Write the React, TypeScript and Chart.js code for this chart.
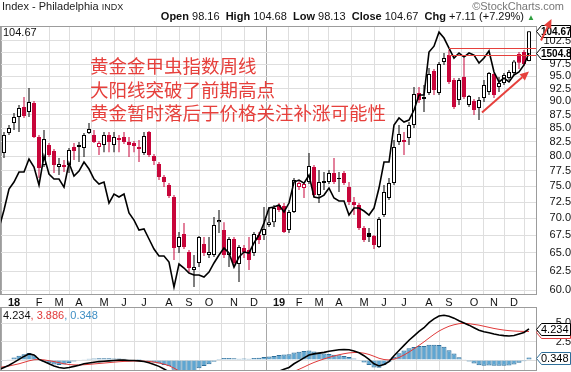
import React, { useEffect, useRef } from 'react';
import { Chart, registerables } from 'chart.js';

Chart.register(...registerables);

const FONT = '"Liberation Sans", Arial, Helvetica, sans-serif';
const CJK = '"Noto Sans CJK SC", "Noto Sans CJK TC", sans-serif';

// week index of the first bar (week 0 = week of 1 Jan 2018), one bar per week
const FIRST_WEEK = -3;

const opens = [
  76.66, 80.54, 84.08, 85.91, 87.04, 88.93, 87.97, 89.69, 83.37, 78.5,
  81.95, 80.89, 78.17, 78.5, 78.5, 81.6, 81.6, 81.43, 84.08, 83.73,
  81.6, 81.95, 83.73, 81.95, 83.2, 83.37, 82.48, 82.3, 81.6, 80.54,
  84.26, 80.03, 78.67, 76.5, 75.2, 73.28, 65.81, 67.67, 65.1, 62.64,
  63.58, 66.24, 64.69, 64.69, 69.43, 68.26, 64.69, 66.95, 63.45, 65.67,
  65.39, 64.96, 67.53, 67.53, 68.99, 69.43, 72.03, 71.87, 68.26, 70.95,
  74.88, 74.72, 75.68, 78.17, 73.59, 75.52, 75.68, 77.15, 76.34, 77.15,
  74.88, 72.49, 72.03, 68.55, 67.82, 67.39, 65.81, 70.5, 73.12, 75.52,
  82.48, 82.48, 83.2, 85.55, 91.64, 90.86, 91.64, 96.07, 91.64, 97.95,
  99.45, 94.25, 90.28, 94.86, 89.31, 90.07, 88.74, 90.67, 91.83, 95.47,
  92.85, 93.64, 94.66, 95.67, 99.66, 100.08, 98.16,
];
const highs = [
  80.54, 84.26, 85.55, 87.78, 89.31, 90.86, 92.65, 90.07, 83.73, 84.64,
  82.3, 81.25, 79.69, 79.35, 81.43, 82.3, 82.48, 84.08, 85.91, 84.64,
  82.65, 84.26, 84.26, 84.26, 83.73, 84.26, 83.37, 82.65, 82.84, 84.26,
  84.44, 80.37, 79.0, 76.83, 75.52, 73.59, 67.96, 69.29, 65.39, 64.69,
  67.39, 67.24, 67.24, 70.2, 71.26, 69.43, 67.24, 67.24, 66.09, 66.09,
  67.24, 67.96, 67.96, 71.72, 71.72, 72.03, 72.33, 72.33, 71.26, 76.34,
  76.01, 75.68, 80.54, 78.5, 77.67, 77.32, 77.67, 79.69, 77.32, 77.49,
  75.68, 73.28, 72.33, 68.85, 68.55, 67.53, 70.2, 75.2, 76.34, 82.84,
  85.55, 84.26, 86.1, 92.85, 92.85, 93.24, 96.71, 96.51, 97.95, 99.87,
  100.53, 94.66, 94.66, 98.81, 91.25, 90.47, 90.86, 94.25, 95.87, 95.67,
  94.86, 95.67, 96.3, 98.39, 100.08, 100.53, 104.68,
];
const lows = [
  75.2, 79.69, 83.73, 84.64, 84.26, 86.85, 87.04, 83.2, 76.34, 78.17,
  79.86, 77.15, 76.83, 77.32, 77.15, 79.35, 79.0, 79.86, 83.91, 82.3,
  80.2, 80.71, 80.71, 80.71, 80.71, 82.13, 79.86, 80.71, 79.0, 80.2,
  79.86, 78.5, 76.01, 74.88, 73.12, 64.0, 64.96, 65.53, 62.35, 60.39,
  63.04, 64.55, 64.28, 64.41, 67.82, 64.28, 63.04, 63.04, 61.05, 64.28,
  62.64, 64.55, 66.24, 66.81, 68.7, 68.7, 70.95, 67.82, 67.82, 70.8,
  74.4, 73.12, 75.36, 73.28, 72.33, 74.4, 75.36, 75.36, 74.06, 75.2,
  72.03, 70.5, 68.26, 66.52, 66.52, 65.53, 65.67, 70.2, 72.81, 75.2,
  81.95, 80.2, 81.95, 85.0, 89.69, 87.97, 91.25, 91.25, 91.25, 97.33,
  93.44, 88.55, 89.31, 90.47, 88.93, 87.41, 86.48, 89.88, 91.25, 90.67,
  91.83, 93.24, 94.25, 95.26, 96.51, 97.13, 98.13,
];
const closes = [
  79.86, 83.73, 85.0, 87.04, 88.74, 87.22, 89.88, 83.37, 78.0, 83.02,
  80.2, 78.5, 78.67, 78.17, 81.08, 80.89, 81.95, 83.73, 84.82, 82.48,
  82.3, 83.73, 82.48, 83.37, 82.84, 82.48, 81.95, 81.78, 81.25, 83.55,
  80.2, 79.17, 76.5, 75.68, 73.44, 65.67, 67.24, 65.81, 62.91, 63.04,
  67.24, 64.96, 65.1, 68.99, 69.75, 64.69, 66.95, 63.58, 65.81, 65.1,
  64.0, 67.67, 66.81, 68.41, 69.43, 71.57, 71.26, 67.96, 70.95, 76.01,
  75.52, 75.36, 78.34, 73.59, 75.68, 75.84, 77.15, 75.68, 76.17, 75.52,
  72.49, 72.03, 68.55, 66.81, 67.24, 66.09, 69.9, 74.06, 75.52, 81.6,
  83.91, 82.84, 85.55, 91.44, 90.28, 90.47, 95.47, 92.25, 97.54, 98.81,
  93.84, 88.93, 94.25, 90.86, 91.06, 88.36, 90.28, 93.24, 95.67, 91.25,
  93.64, 95.26, 95.87, 98.1, 97.8, 97.56, 104.67,
];
// gold price overlay ($GOLD weekly close)
const goldCloses = [
  1257.6, 1281.0, 1308.8, 1318.3, 1331.9, 1331.9, 1349.8, 1338.7, 1314.2, 1353.9,
  1329.2, 1322.4, 1322.4, 1311.5, 1344.3, 1326.5, 1333.2, 1345.6, 1336.0, 1322.4,
  1315.6, 1318.3, 1290.2, 1302.2, 1298.2, 1302.2, 1277.1, 1267.9, 1255.0, 1256.3,
  1243.5, 1230.8, 1222.0, 1222.0, 1214.5, 1183.7, 1212.0, 1207.0, 1200.8, 1198.4,
  1198.4, 1195.9, 1202.0, 1213.3, 1223.2, 1232.0, 1225.8, 1208.2, 1220.7, 1227.0,
  1225.8, 1238.4, 1248.6, 1264.0, 1283.6, 1284.9, 1287.6, 1278.4, 1290.2, 1318.3,
  1321.0, 1316.9, 1327.8, 1298.2, 1296.9, 1300.8, 1310.2, 1296.9, 1292.9, 1292.9,
  1274.4, 1283.6, 1283.6, 1279.7, 1274.4, 1283.6, 1310.2, 1345.6, 1345.6, 1397.7,
  1407.8, 1402.0, 1404.9, 1419.4, 1441.4, 1441.4, 1506.3, 1515.4, 1537.3, 1528.1,
  1512.5, 1497.1, 1504.8, 1498.6, 1504.8, 1501.7, 1489.5, 1497.1, 1507.9, 1475.8,
  1460.8, 1466.7, 1460.8, 1471.3, 1475.8, 1486.5, 1504.8,
];
// MACD(12,26,9)
const macdLine = [
  -1.3, -1.0, -0.7, -0.3, 0.1, 0.5, 0.85, 0.7, 0.1, -0.2,
  -0.5, -0.8, -1.0, -1.1, -1.0, -0.85, -0.7, -0.5, -0.4, -0.3,
  -0.2, -0.15, -0.1, -0.05, 0.0, 0.0, -0.05, -0.05, -0.1, -0.2,
  -0.35, -0.6, -0.85, -1.2, -1.6, -2.4, -3.0, -3.4, -3.8, -4.1,
  -4.0, -3.9, -3.8, -3.5, -3.1, -2.9, -2.8, -2.8, -2.8, -2.7,
  -2.7, -2.5, -2.4, -2.2, -2.0, -1.8, -1.5, -1.25, -1.0, -0.5,
  -0.1, 0.3, 0.7, 0.85, 0.95, 1.05, 1.2, 1.3, 1.4, 1.42,
  1.4, 1.25, 1.0, 0.6, 0.1, -0.5, -0.8, -0.6, -0.2, 0.6,
  1.3, 2.0, 2.7, 3.3, 3.9, 4.4, 5.1, 5.6, 6.0, 6.1,
  5.95, 5.7, 5.35, 5.05, 4.75, 4.4, 4.05, 3.85, 3.72, 3.55,
  3.42, 3.33, 3.28, 3.35, 3.55, 3.75, 4.234,
];
const signalLine = [
  -1.0, -0.9, -0.8, -0.65, -0.5, -0.3, -0.1, 0.05, 0.08, 0.03,
  -0.08, -0.2, -0.35, -0.5, -0.6, -0.65, -0.66, -0.63, -0.58, -0.52,
  -0.46, -0.4, -0.34, -0.28, -0.22, -0.18, -0.15, -0.13, -0.12, -0.14,
  -0.18, -0.27, -0.39, -0.55, -0.76, -1.09, -1.47, -1.86, -2.25, -2.62,
  -2.9, -3.1, -3.24, -3.29, -3.25, -3.18, -3.1, -3.04, -2.99, -2.93,
  -2.88, -2.8, -2.72, -2.62, -2.5, -2.36, -2.19, -2.0, -1.8, -1.54,
  -1.25, -0.94, -0.61, -0.32, -0.07, 0.16, 0.37, 0.56, 0.73, 0.87,
  0.98, 1.03, 1.03, 0.94, 0.77, 0.52, 0.25, 0.08, 0.02, 0.13,
  0.36, 0.69, 1.09, 1.53, 2.0, 2.48, 3.0, 3.5, 3.95, 4.3,
  4.6, 4.8, 4.95, 5.0, 4.95, 4.85, 4.75, 4.6, 4.45, 4.3,
  4.18, 4.08, 4.0, 3.95, 3.92, 3.9, 3.886,
];
const histogram = [
  -0.3, -0.1, 0.1, 0.35, 0.6, 0.8, 0.95, 0.65, 0.02, -0.23,
  -0.42, -0.6, -0.65, -0.6, -0.4, -0.2, -0.04, 0.13, 0.18, 0.22,
  0.26, 0.25, 0.24, 0.23, 0.22, 0.18, 0.1, 0.08, 0.02, -0.06,
  -0.17, -0.33, -0.46, -0.65, -0.84, -1.31, -1.53, -1.54, -1.55, -1.48,
  -1.1, -0.8, -0.56, -0.21, 0.15, 0.28, 0.3, 0.24, 0.19, 0.23,
  0.18, 0.3, 0.32, 0.42, 0.5, 0.56, 0.69, 0.75, 0.8, 1.04,
  1.15, 1.24, 1.31, 1.17, 1.02, 0.89, 0.83, 0.74, 0.67, 0.55,
  0.42, 0.22, -0.03, -0.34, -0.67, -1.02, -1.05, -0.68, -0.22, 0.47,
  0.94, 1.31, 1.61, 1.77, 1.9, 1.92, 2.1, 2.1, 2.05, 1.8,
  1.35, 0.9, 0.4, 0.05, -0.2, -0.45, -0.7, -0.75, -0.73, -0.75,
  -0.76, -0.75, -0.72, -0.6, -0.37, -0.15, 0.348,
];

const monthWeeks = [0, 5, 9, 13, 18, 22, 26, 31, 35, 39, 44, 48, 53, 57, 61, 65, 70, 74, 78, 83, 87, 92, 96, 100];
const monthLabels = ['18', 'F', 'M', 'A', 'M', 'J', 'J', 'A', 'S', 'O', 'N', 'D', '19', 'F', 'M', 'A', 'M', 'J', 'J', 'A', 'S', 'O', 'N', 'D'];
const priceTicks = [60, 62.5, 65, 67.5, 70, 72.5, 75, 77.5, 80, 82.5, 85, 87.5, 90, 92.5, 95, 97.5, 100, 102.5];
const macdTicks = [0, 2.5, 5];

// hand-drawn annotations (week index, index value)
const bandLevels = [100.9, 99.46];
const bandStartWeek = 87;
const arrowNotes = [
  { w0: 93.6, v0: 87.9, w1: 103.0, v1: 96.0 },
  { w0: 105.4, v0: 102.6, w1: 107.5, v1: 107.46 },
];
const noteLines = ['黄金金甲虫指数周线', '大阳线突破了前期高点', '黄金暂时落后于价格关注补涨可能性'];

const X_MIN = -2.8;
const X_MAX = 104.4;
const Y_MIN = 59.36;
const Y_MAX = 105.63;
const GOLD_MIN = 1174.1;
const GOLD_MAX = 1545.5;
const MACD_MIN = -1.48;
const MACD_MAX = 7.08;

const RED = '#c8053a';
const NOTE_RED = '#e6403c';
const GRID = '#dedede';
const YEAR_GRID = '#a8a8a8';
const FRAME = '#9c9c9c';
const HIST_FILL = '#5ea6d2';
const HIST_EDGE = '#2f6f9a';
const SIGNAL_RED = '#e03a3a';

const isYear = (s: string | undefined) => !!s && /^\d/.test(s);
const weekOf = (k: number) => FIRST_WEEK + k;

function candleColor(k: number) {
  const prev = k > 0 ? closes[k - 1] : opens[k];
  return closes[k] < prev ? RED : '#000';
}
function isHollow(k: number) {
  return closes[k] >= opens[k];
}

function drawTag(
  ctx: CanvasRenderingContext2D,
  left: number,
  cyRaw: number,
  text: string,
  stroke: string,
  bold: boolean,
  size: number,
) {
  const cy = Math.round(cyRaw) + 0.5;
  const h = 12;
  const tip = 5;
  const right = 570.5;
  ctx.beginPath();
  ctx.moveTo(left, cy);
  ctx.lineTo(left + tip, cy - h / 2);
  ctx.lineTo(right, cy - h / 2);
  ctx.lineTo(right, cy + h / 2);
  ctx.lineTo(left + tip, cy + h / 2);
  ctx.closePath();
  ctx.fillStyle = '#fff';
  ctx.fill();
  ctx.strokeStyle = stroke;
  ctx.lineWidth = 1;
  ctx.stroke();
  ctx.fillStyle = '#000';
  ctx.font = `${bold ? 'bold ' : ''}${size}px ${FONT}`;
  ctx.textAlign = 'left';
  ctx.textBaseline = 'middle';
  ctx.fillText(text, left + tip - 0.5, cy + 0.5);
}

function drawArrow(ctx: CanvasRenderingContext2D, x0: number, y0: number, x1: number, y1: number) {
  const ang = Math.atan2(y1 - y0, x1 - x0);
  const len = 9;
  const half = 4;
  const bx = x1 - len * Math.cos(ang);
  const by = y1 - len * Math.sin(ang);
  ctx.strokeStyle = NOTE_RED;
  ctx.fillStyle = NOTE_RED;
  ctx.lineWidth = 2;
  ctx.beginPath();
  ctx.moveTo(x0, y0);
  ctx.lineTo(bx, by);
  ctx.stroke();
  ctx.beginPath();
  ctx.moveTo(x1, y1);
  ctx.lineTo(bx + half * Math.sin(ang), by - half * Math.cos(ang));
  ctx.lineTo(bx - half * Math.sin(ang), by + half * Math.cos(ang));
  ctx.closePath();
  ctx.fill();
}

const mainOverlay = {
  id: 'mainOverlay',
  afterDraw(chart: any) {
    const { ctx, chartArea: a } = chart;
    const xs = chart.scales.x;
    const ys = chart.scales.y;
    const gs = chart.scales.yGold;
    ctx.save();
    ctx.strokeStyle = FRAME;
    ctx.lineWidth = 1;
    ctx.strokeRect(a.left + 0.5, a.top - 0.5, a.right - a.left, a.bottom - a.top);
    ctx.strokeStyle = NOTE_RED;
    ctx.lineWidth = 1;
    for (const v of bandLevels) {
      const py = Math.round(ys.getPixelForValue(v)) + 0.5;
      ctx.beginPath();
      ctx.moveTo(xs.getPixelForValue(bandStartWeek), py);
      ctx.lineTo(a.right, py);
      ctx.stroke();
    }
    const last = closes.length - 1;
    drawTag(ctx, a.right + 0.5, ys.getPixelForValue(closes[last]), closes[last].toFixed(2), '#000', true, 10);
    drawTag(ctx, a.right + 0.5, gs.getPixelForValue(goldCloses[last]), goldCloses[last].toFixed(1), '#000', true, 10);
    for (const ar of arrowNotes) {
      drawArrow(ctx, xs.getPixelForValue(ar.w0), ys.getPixelForValue(ar.v0), xs.getPixelForValue(ar.w1), ys.getPixelForValue(ar.v1));
    }
    ctx.restore();
  },
};

const macdOverlay = {
  id: 'macdOverlay',
  afterDraw(chart: any) {
    const { ctx, chartArea: a } = chart;
    const ys = chart.scales.y;
    ctx.save();
    ctx.strokeStyle = FRAME;
    ctx.lineWidth = 1;
    ctx.strokeRect(a.left + 0.5, a.top - 0.5, a.right - a.left, a.bottom - a.top);
    const last = macdLine.length - 1;
    drawTag(ctx, a.right + 0.5, ys.getPixelForValue(signalLine[last]), signalLine[last].toFixed(3), SIGNAL_RED, false, 11);
    drawTag(ctx, a.right + 0.5, ys.getPixelForValue(macdLine[last]), macdLine[last].toFixed(3), '#000', false, 11);
    drawTag(ctx, a.right + 0.5, ys.getPixelForValue(histogram[last]), histogram[last].toFixed(3), HIST_EDGE, false, 11);
    ctx.restore();
  },
};

const monthTickBuilder = (s: any) => {
  s.ticks = monthWeeks.map((v) => ({ value: v }));
};
const gridColor = (c: any) => (isYear(monthLabels[c.index]) ? YEAR_GRID : GRID);

export default function App() {
  const mainRef = useRef<HTMLCanvasElement>(null);
  const macdRef = useRef<HTMLCanvasElement>(null);

  useEffect(() => {
    document.body.style.margin = '0';
    Chart.defaults.font.family = FONT;
    const xsVals = closes.map((_, k) => weekOf(k));

    const main = new Chart(mainRef.current as HTMLCanvasElement, {
      type: 'bar',
      data: {
        datasets: [
          {
            type: 'line',
            label: 'Gold',
            data: xsVals.map((x, k) => ({ x, y: goldCloses[k] })),
            yAxisID: 'yGold',
            borderColor: '#000',
            borderWidth: 1.6,
            pointRadius: 0,
            tension: 0,
            order: 0,
          } as any,
          {
            type: 'bar',
            label: 'Body',
            data: xsVals.map((x, k) => ({ x, y: [Math.min(opens[k], closes[k]), Math.max(opens[k], closes[k])] })),
            yAxisID: 'y',
            barThickness: 4,
            grouped: false,
            borderWidth: 1,
            borderSkipped: false,
            inflateAmount: 0,
            backgroundColor: (c: any) => (isHollow(c.dataIndex) ? '#fff' : candleColor(c.dataIndex)),
            borderColor: (c: any) => candleColor(c.dataIndex),
            order: 1,
          } as any,
          {
            type: 'bar',
            label: 'Range',
            data: xsVals.map((x, k) => ({ x, y: [lows[k], highs[k]] })),
            yAxisID: 'y',
            barThickness: 1,
            grouped: false,
            borderWidth: 0,
            inflateAmount: 0,
            backgroundColor: (c: any) => candleColor(c.dataIndex),
            order: 2,
          } as any,
        ],
      },
      options: {
        animation: false,
        responsive: false,
        maintainAspectRatio: false,
        layout: { padding: { top: 27, left: 0, right: 0, bottom: 0 } },
        plugins: { legend: { display: false }, tooltip: { enabled: false } },
        scales: {
          x: {
            type: 'linear',
            min: X_MIN,
            max: X_MAX,
            bounds: 'data',
            offset: false,
            afterBuildTicks: monthTickBuilder,
            ticks: {
              autoSkip: false,
              maxRotation: 0,
              minRotation: 0,
              padding: 1,
              color: '#111',
              callback: (_v: any, i: number) => monthLabels[i],
              font: (c: any) => ({ family: FONT, size: 11, weight: isYear(monthLabels[c.index]) ? 'bold' : 'normal' }),
            },
            grid: { drawTicks: false, color: gridColor },
            border: { display: false },
            afterFit: (s: any) => {
              s.height = 17;
              s.paddingLeft = 0;
              s.paddingRight = 0;
            },
          },
          y: {
            type: 'logarithmic',
            position: 'right',
            min: Y_MIN,
            max: Y_MAX,
            bounds: 'data',
            afterBuildTicks: (s: any) => {
              s.ticks = priceTicks.map((v) => ({ value: v }));
            },
            ticks: {
              autoSkip: false,
              crossAlign: 'far',
              padding: 3.5,
              color: '#111',
              font: { family: FONT, size: 11 },
              callback: (v: any) => Number(v).toFixed(1),
            },
            grid: { drawTicks: false, color: GRID },
            border: { display: false },
            afterFit: (s: any) => {
              s.width = 35;
              s.paddingTop = 0;
              s.paddingBottom = 0;
            },
          },
          yGold: {
            type: 'logarithmic',
            display: false,
            min: GOLD_MIN,
            max: GOLD_MAX,
            bounds: 'data',
          },
        },
      } as any,
      plugins: [mainOverlay],
    });

    const macd = new Chart(macdRef.current as HTMLCanvasElement, {
      type: 'bar',
      data: {
        datasets: [
          {
            type: 'line',
            label: 'MACD',
            data: xsVals.map((x, k) => ({ x, y: macdLine[k] })),
            borderColor: '#000',
            borderWidth: 1.6,
            pointRadius: 0,
            tension: 0,
            order: 0,
          } as any,
          {
            type: 'line',
            label: 'Signal',
            data: xsVals.map((x, k) => ({ x, y: signalLine[k] })),
            borderColor: SIGNAL_RED,
            borderWidth: 1,
            pointRadius: 0,
            tension: 0,
            order: 1,
          } as any,
          {
            type: 'bar',
            label: 'Histogram',
            data: xsVals.map((x, k) => ({ x, y: histogram[k] })),
            backgroundColor: HIST_FILL,
            borderColor: HIST_EDGE,
            borderWidth: 1,
            barThickness: 5,
            inflateAmount: 0,
            order: 2,
          } as any,
        ],
      },
      options: {
        animation: false,
        responsive: false,
        maintainAspectRatio: false,
        layout: { padding: { top: 8, left: 0, right: 0, bottom: 1 } },
        plugins: { legend: { display: false }, tooltip: { enabled: false } },
        scales: {
          x: {
            type: 'linear',
            min: X_MIN,
            max: X_MAX,
            bounds: 'data',
            offset: false,
            afterBuildTicks: monthTickBuilder,
            ticks: { display: false },
            grid: { drawTicks: false, color: gridColor },
            border: { display: false },
            afterFit: (s: any) => {
              s.height = 0;
              s.paddingLeft = 0;
              s.paddingRight = 0;
            },
          },
          y: {
            type: 'linear',
            position: 'right',
            min: MACD_MIN,
            max: MACD_MAX,
            bounds: 'data',
            afterBuildTicks: (s: any) => {
              s.ticks = macdTicks.map((v) => ({ value: v }));
            },
            ticks: {
              autoSkip: false,
              crossAlign: 'far',
              padding: 3.5,
              color: '#111',
              font: { family: FONT, size: 11 },
              callback: (v: any) => Number(v).toFixed(1),
            },
            grid: { drawTicks: false, color: GRID },
            border: { display: false },
            afterFit: (s: any) => {
              s.width = 35;
              s.paddingTop = 0;
              s.paddingBottom = 0;
            },
          },
        },
      } as any,
      plugins: [macdOverlay],
    });

    return () => {
      main.destroy();
      macd.destroy();
    };
  }, []);

  const last = closes.length - 1;
  const chg = closes[last] - closes[last - 1];
  const pct = (chg / closes[last - 1]) * 100;
  const abs: React.CSSProperties = { position: 'absolute', whiteSpace: 'nowrap', lineHeight: '13px', fontSize: 11, fontFamily: FONT };

  return (
    <div style={{ position: 'absolute', left: 0, top: 0, width: 571, height: 372, overflow: 'hidden', background: '#fff' }}>
      <canvas ref={mainRef} width={571} height={312} style={{ position: 'absolute', left: 0, top: 0, width: 571, height: 312 }} />
      <canvas ref={macdRef} width={571} height={72} style={{ position: 'absolute', left: 0, top: 300, width: 571, height: 72 }} />
      <div style={{ ...abs, left: 2, top: 0, color: '#222' }}>
        Index - Philadelphia <span style={{ fontSize: 9 }}>INDX</span>
      </div>
      <div style={{ ...abs, right: 7, top: 0, color: '#777' }}>©StockCharts.com</div>
      <div style={{ ...abs, right: 36, top: 10, color: '#111' }}>
        <b>Open</b> {opens[last].toFixed(2)}&nbsp; <b>High</b> {highs[last].toFixed(2)}&nbsp; <b>Low</b> {lows[last].toFixed(2)}&nbsp;{' '}
        <b>Close</b> {closes[last].toFixed(2)}&nbsp; <b>Chg</b> {chg >= 0 ? '+' : ''}
        {chg.toFixed(2)} ({pct >= 0 ? '+' : ''}
        {pct.toFixed(2)}%) <span style={{ color: '#2e9e3e', fontSize: 8 }}>▲</span>
      </div>
      <div style={{ ...abs, left: 3, top: 26, color: '#111' }}>{closes[last].toFixed(2)}</div>
      {noteLines.map((t, i) => (
        <div
          key={i}
          style={{
            position: 'absolute',
            left: 90,
            top: 56 + i * 23.5,
            fontFamily: CJK,
            fontSize: 18.5,
            lineHeight: '19px',
            color: NOTE_RED,
            whiteSpace: 'nowrap',
          }}
        >
          {t}
        </div>
      ))}
      <div style={{ ...abs, left: 3, top: 309 }}>
        <span style={{ color: '#111' }}>{macdLine[last].toFixed(3)}</span>
        <span style={{ color: SIGNAL_RED }}>, {signalLine[last].toFixed(3)}</span>
        <span style={{ color: '#3f8fc4' }}>, {histogram[last].toFixed(3)}</span>
      </div>
    </div>
  );
}
